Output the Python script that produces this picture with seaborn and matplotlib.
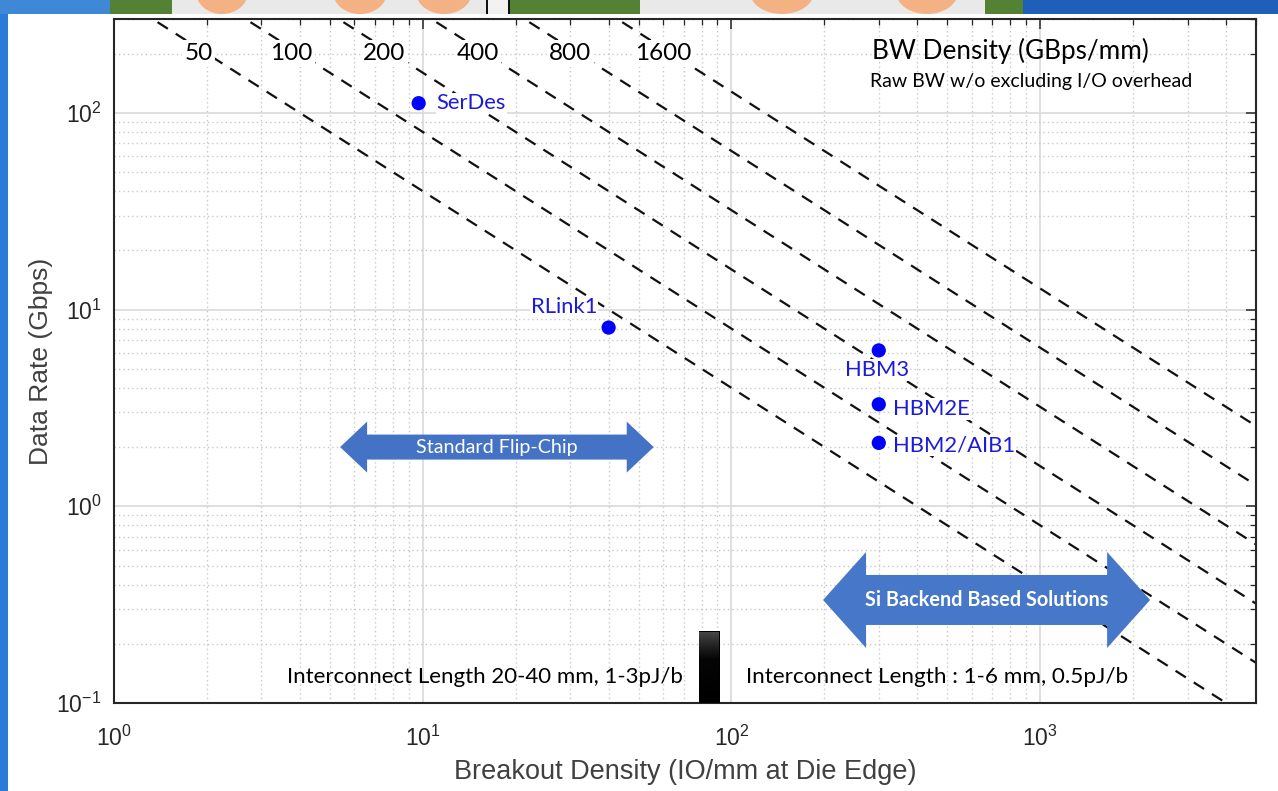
import numpy as np
import pandas as pd
import matplotlib
matplotlib.use("Agg")
import matplotlib.pyplot as plt
import seaborn as sns
from matplotlib.patches import Polygon, Rectangle, Ellipse
from matplotlib.colors import LinearSegmentedColormap
from matplotlib.transforms import IdentityTransform
from matplotlib.ticker import LogLocator, NullFormatter

# --- chart data -------------------------------------------------------------
tech_names = ["SerDes", "RLink1", "HBM3", "HBM2E", "HBM2/AIB1"]
breakout_density = [9.7, 40, 300, 300, 300]      # IO/mm at die edge
data_rate = [112, 8.1, 6.2, 3.3, 2.1]            # Gbps
bw_density = [50, 100, 200, 400, 800, 1600]      # GBps/mm iso-lines

flip_chip_span = [5.4, 56]        # IO/mm, "Standard Flip-Chip" arrow
flip_chip_rate = 2.0              # Gbps, arrow centre
si_backend_span = [198, 2270]     # IO/mm, "Si Backend Based Solutions" arrow
si_backend_rate = 0.334
divider_x = 85                    # IO/mm, black divider bar
divider_top = 0.232               # Gbps

x_range = [1, 5000]
y_range = [0.1, 300]

W, H = 1278, 791
BODY = ["Lato", "DejaVu Sans"]
AXFONT = ["Liberation Sans", "DejaVu Sans"]

sns.set_theme(style="white")
plt.rcParams["font.family"] = AXFONT
plt.rcParams["mathtext.fontset"] = "custom"
plt.rcParams["mathtext.rm"] = "Liberation Sans"
plt.rcParams["mathtext.it"] = "Liberation Sans"
plt.rcParams["axes.unicode_minus"] = False

fig = plt.figure(figsize=(W / 100, H / 100), dpi=100)
fig.patch.set_facecolor("white")
ax = fig.add_axes([114 / W, 1 - 703 / H, 1142 / W, 684 / H])

# --- slide decoration around the chart ---------------------------------------
def fig_rect(x0, y0, x1, y1, color, z=0):
    fig.add_artist(Rectangle((x0 / W, 1 - y1 / H), (x1 - x0) / W, (y1 - y0) / H,
                             transform=fig.transFigure, color=color, zorder=z, lw=0))

fig_rect(0, 0, 8, H, "#2b7bd8")
fig_rect(0, 0, 110, 14, "#3f88d6")
fig_rect(110, 0, 172, 14, "#548235")
fig_rect(172, 0, 486, 14, "#e9e9e9")
fig_rect(486, 0, 488, 14, "#111111")
fig_rect(488, 0, 508, 14, "#f2f2f2")
fig_rect(508, 0, 510, 14, "#111111")
fig_rect(510, 0, 640, 14, "#548235")
fig_rect(640, 0, 985, 14, "#e9e9e9")
fig_rect(985, 0, 1023, 14, "#548235")
fig_rect(1023, 0, W, 14, "#1f5fba")
for cx, w in [(222, 52), (360, 54), (444, 56), (782, 64), (927, 62)]:
    fig.add_artist(Ellipse((cx / W, 1 + 8 / H), w / W, 44 / H, transform=fig.transFigure,
                           color="#f4b183", lw=0, zorder=1))

# --- axes setup ---------------------------------------------------------------
ax.set_xscale("log")
ax.set_yscale("log")
ax.set_xlim(*x_range)
ax.set_ylim(*y_range)
ax.set_facecolor("white")

ax.xaxis.set_major_locator(LogLocator(base=10, numticks=10))
ax.yaxis.set_major_locator(LogLocator(base=10, numticks=10))
ax.xaxis.set_minor_locator(LogLocator(base=10, subs=np.arange(2, 10), numticks=50))
ax.yaxis.set_minor_locator(LogLocator(base=10, subs=np.arange(2, 10), numticks=50))
ax.xaxis.set_minor_formatter(NullFormatter())
ax.yaxis.set_minor_formatter(NullFormatter())

ax.grid(True, which="major", color="#dcdcdc", linestyle="-", linewidth=1.3, zorder=0)
ax.grid(True, which="minor", color="#c8c8c8", linestyle=(0, (1, 2.2)), linewidth=1.0, zorder=0)
ax.set_axisbelow(True)
for sp in ax.spines.values():
    sp.set_color("#262626")
    sp.set_linewidth(1.5)
ax.tick_params(which="both", direction="in", top=True, right=True, color="#262626",
               labelsize=16.5, labelcolor="#262626")
ax.tick_params(which="major", length=7, width=1.1)
ax.tick_params(which="minor", length=4, width=0.9)
ax.tick_params(axis="x", which="major", pad=16)
ax.tick_params(axis="y", which="major", pad=9)

ax.set_xlabel("Breakout Density (IO/mm at Die Edge)", fontsize=19.5, color="#404040")
ax.set_ylabel("Data Rate (Gbps)", fontsize=19, color="#404040")
ax.xaxis.set_label_coords(0.5, -0.082)
ax.yaxis.set_label_coords(-0.053, 0.5)

# --- iso bandwidth-density lines (x * y = 8 * GBps/mm) -------------------------
xs = np.array(x_range, dtype=float)
lines = pd.DataFrame([(bw, x, 8 * bw / x) for bw in bw_density for x in xs],
                     columns=["bw", "x", "y"])
for bw, grp in lines.groupby("bw"):
    sns.lineplot(data=grp, x="x", y="y", ax=ax, color="#111111", linewidth=1.6,
                 linestyle=(0, (5.5, 4.2)), estimator=None, sort=False, legend=False, zorder=2)
ax.set_xlim(*x_range)
ax.set_ylim(*y_range)

label_y = 200
for bw in bw_density:
    ax.text(8 * bw / label_y * 0.94, label_y, str(bw), ha="center", va="center",
            fontsize=17.5, family=BODY, color="black", zorder=3,
            bbox=dict(fc="white", ec="none", pad=2))

ax.text(0.664, 0.954, "BW Density (GBps/mm)", transform=ax.transAxes, ha="left",
        va="center", fontsize=18.8, family=BODY, color="black", zorder=3)
ax.text(0.662, 0.908, "Raw BW w/o excluding I/O overhead", transform=ax.transAxes,
        ha="left", va="center", fontsize=14, family=BODY, color="black", zorder=3)

# --- technology points ----------------------------------------------------------
pts = pd.DataFrame({"name": tech_names, "x": breakout_density, "y": data_rate})
sns.scatterplot(data=pts, x="x", y="y", ax=ax, color="#0000ff", s=105,
                edgecolor="none", zorder=5, legend=False)
label_style = {
    "SerDes": ((13, 0), "left"),
    "RLink1": ((-8, 15), "right"),
    "HBM3": ((-1.5, -14), "center"),
    "HBM2E": ((10, -3.5), "left"),
    "HBM2/AIB1": ((10, -2), "left"),
}
for _, r in pts.iterrows():
    off, ha = label_style[r["name"]]
    ax.annotate(r["name"], (r["x"], r["y"]), xytext=off, textcoords="offset points",
                ha=ha, va="center", fontsize=15.8, family=BODY, color="#1c1cd8", zorder=6,
                bbox=dict(fc="white", ec="none", pad=0.5))

# --- region arrows ------------------------------------------------------------------
def block_darrow(span, yc, half_shaft, half_head, head_len, color):
    (x0, y0), (x1, _) = ax.transData.transform([(span[0], yc), (span[1], yc)])
    verts = [
        (x0, y0), (x0 + head_len, y0 + half_head), (x0 + head_len, y0 + half_shaft),
        (x1 - head_len, y0 + half_shaft), (x1 - head_len, y0 + half_head), (x1, y0),
        (x1 - head_len, y0 - half_head), (x1 - head_len, y0 - half_shaft),
        (x0 + head_len, y0 - half_shaft), (x0 + head_len, y0 - half_head),
    ]
    ax.add_patch(Polygon(verts, closed=True, transform=IdentityTransform(),
                         fc=color, ec="none", zorder=4))

block_darrow(flip_chip_span, flip_chip_rate, 12.5, 25.5, 27, "#4472c4")
block_darrow(si_backend_span, si_backend_rate, 25, 48, 43, "#4677c8")
ax.text(np.sqrt(flip_chip_span[0] * flip_chip_span[1]), flip_chip_rate, "Standard Flip-Chip",
        ha="center", va="center", fontsize=14.2, family=BODY, color="white", zorder=5)
ax.text(np.sqrt(si_backend_span[0] * si_backend_span[1]), si_backend_rate,
        "Si Backend Based Solutions", ha="center", va="center", fontsize=14.3,
        family=BODY, fontweight="bold", color="white", zorder=5)

# --- divider bar and interconnect notes -------------------------------------------
bx0, bx1 = divider_x / 1.08, divider_x * 1.08
bars = ax.bar(bx0, divider_top - y_range[0], width=bx1 - bx0, bottom=y_range[0],
              align="edge", color="black", linewidth=0, zorder=4)
grad = np.linspace(0, 1, 100).reshape(-1, 1)
cmap = LinearSegmentedColormap.from_list("bar", ["#000000", "#050505", "#4a4a4a"])
im = ax.imshow(grad, extent=[bx0, bx1, y_range[0], divider_top], origin="lower", cmap=cmap,
               aspect="auto", zorder=4.5, interpolation="bilinear")
im.set_clip_path(bars.patches[0])
ax.set_xlim(*x_range)
ax.set_ylim(*y_range)
ax.set_aspect("auto")

ax.text(0.1515, 0.038, "Interconnect Length 20-40 mm, 1-3pJ/b", transform=ax.transAxes,
        ha="left", va="center", fontsize=16, family=BODY, color="black", zorder=3)
ax.text(0.5534, 0.038, "Interconnect Length : 1-6 mm, 0.5pJ/b", transform=ax.transAxes,
        ha="left", va="center", fontsize=16.2, family=BODY, color="black", zorder=3)

fig.savefig("out.png", dpi=100, facecolor=fig.get_facecolor())
